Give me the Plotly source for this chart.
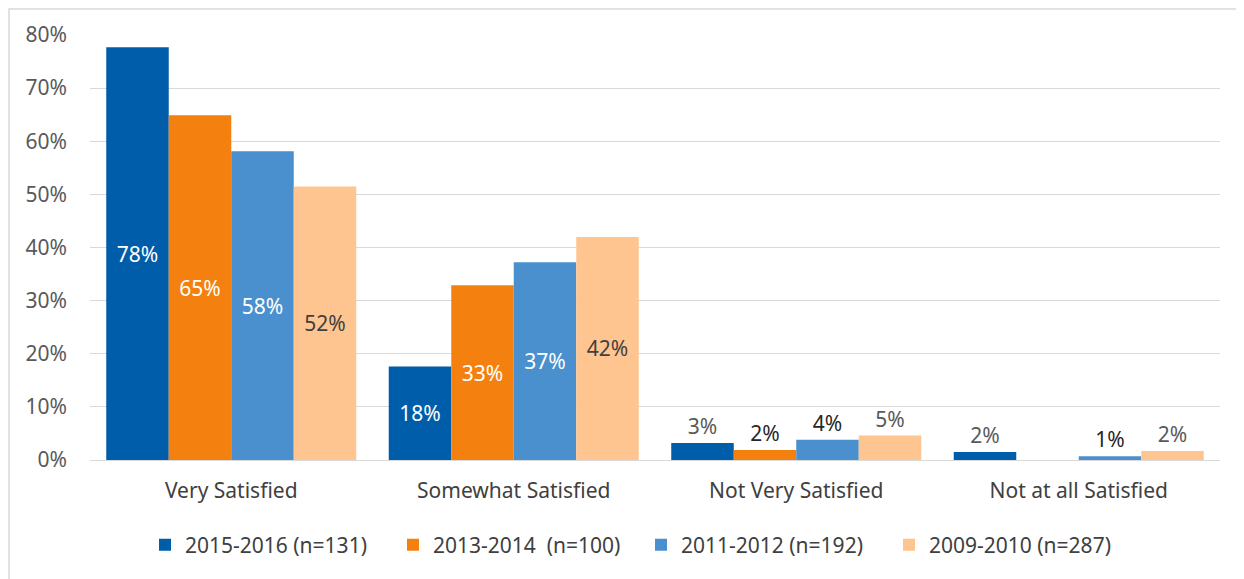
import plotly.graph_objects as go

categories = ["Very Satisfied", "Somewhat Satisfied", "Not Very Satisfied", "Not at all Satisfied"]
series_names = ["2015-2016 (n=131)", "2013-2014  (n=100)", "2011-2012 (n=192)", "2009-2010 (n=287)"]
v2015 = [77.7, 17.6, 3.2, 1.5]
v2013 = [64.9, 32.9, 1.9, 0.0]
v2011 = [58.1, 37.2, 3.8, 0.7]
v2009 = [51.5, 42.0, 4.6, 1.7]
colors = ["#005DAA", "#F4810F", "#4A90CE", "#FFC591"]
inside_text_colors = ["#FFFFFF", "#FFFFFF", "#FFFFFF", "#404040"]
outside_text_colors = ["#595959", "#262626", "#262626", "#595959"]

FONT = "Noto Sans"
FS = 21
# page has an 8px body margin; figure coordinates = screen - 8
L, R, T, B = 82, 24, 27, 119
W, H = 1236, 571
pw, ph = W - L - R, H - T - B

fig = go.Figure()
for i, (name, vals) in enumerate(zip(series_names, [v2015, v2013, v2011, v2009])):
    texts, pos, tcols = [], [], []
    for j, v in enumerate(vals):
        texts.append("" if v <= 0 else f"{int(v + 0.5)}%")
        if v >= 10:
            pos.append("inside")
            tcols.append(inside_text_colors[i])
        else:
            pos.append("outside")
            tcols.append(outside_text_colors[i])
    fig.add_trace(go.Bar(
        x=categories, y=[v / 100 for v in vals], name=name,
        marker=dict(color=colors[i], line=dict(width=0)),
        text=texts, textposition=pos, insidetextanchor="middle",
        textfont=dict(color=tcols, size=FS, family=FONT),
        cliponaxis=False, constraintext="none",
    ))

fig.update_layout(
    width=W, height=H,
    margin=dict(l=L, r=R, t=T, b=B, autoexpand=False),
    paper_bgcolor="white", plot_bgcolor="white",
    barmode="group", bargap=0.115, bargroupgap=0,
    font=dict(family=FONT, size=FS, color="#595959"),
    showlegend=True,
    legend=dict(orientation="h", x=(137 - L) / pw, xanchor="left", y=-0.2, yanchor="middle",
                font=dict(size=FS, color="#404040", family=FONT), traceorder="normal",
                itemwidth=30, entrywidth=203, itemsizing="constant"),
    xaxis=dict(showgrid=False, showline=False, ticks="", ticklabelstandoff=16, automargin=False,
               tickfont=dict(size=FS, color="#404040", family=FONT)),
    yaxis=dict(range=[0, 0.8], dtick=0.1, tickformat=".0%", showgrid=True, gridcolor="#D9D9D9",
               gridwidth=1, zeroline=True, zerolinecolor="#D9D9D9", zerolinewidth=1, automargin=False,
               showline=False, ticks="", ticklabelstandoff=22,
               tickfont=dict(size=FS, color="#595959", family=FONT)),
    shapes=[dict(type="rect", xref="paper", yref="paper",
                 x0=(1 - L) / pw, x1=(1233 - L) / pw,
                 y0=-(H - T - ph + 50) / ph, y1=(T + ph - 1) / ph,
                 line=dict(color="#D9D9D9", width=1.5), fillcolor="rgba(0,0,0,0)", layer="below")],
)

fig.write_html("out.html")
